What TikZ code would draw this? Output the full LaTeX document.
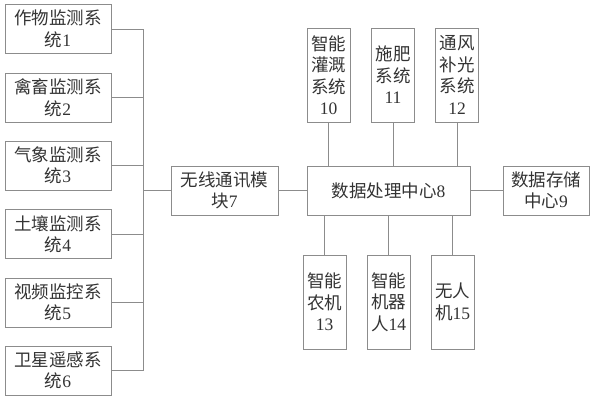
\documentclass[tikz,border=0pt]{standalone}
\usepackage{fontspec}
\setmainfont{Liberation Serif}
\newfontfamily\cjk{Noto Sans CJK SC}
\begin{document}
\begin{tikzpicture}[x=1bp,y=-1bp,
  box/.style={draw=black!45,line width=0.8bp,inner sep=0pt,align=center,
    font=\fontsize{17.5bp}{21.5bp}\selectfont,text=black!80},
  lbox/.style={box,minimum width=106bp,minimum height=49bp},
  vbox/.style={box,minimum width=43bp,minimum height=94bp},
  wire/.style={draw=black!45,line width=0.8bp}]
\useasboundingbox (0,0) rectangle (594,400);
\fill[white] (0,0) rectangle (594,400);
% left column
\node[lbox] (b1) at (58,29) {{\cjk 作物监测系}\\{\cjk 统}1};
\node[lbox] (b2) at (58,97.5) {{\cjk 禽畜监测系}\\{\cjk 统}2};
\node[lbox] (b3) at (58,165.5) {{\cjk 气象监测系}\\{\cjk 统}3};
\node[lbox] (b4) at (58,234) {{\cjk 土壤监测系}\\{\cjk 统}4};
\node[lbox] (b5) at (58,302.5) {{\cjk 视频监控系}\\{\cjk 统}5};
\node[lbox] (b6) at (58,370.5) {{\cjk 卫星遥感系}\\{\cjk 统}6};
% middle
\node[box,minimum width=107bp,minimum height=49bp] (wl) at (224.5,190.5) {{\cjk 无线通讯模}\\{\cjk 块}7};
\node[box,minimum width=163bp,minimum height=49bp] (dc) at (388.5,190.5) {{\cjk 数据处理中心}8};
\node[box,minimum width=86bp,minimum height=49bp] (st) at (546,190.5) {{\cjk 数据存储}\\{\cjk 中心}9};
% top
\node[vbox] (t10) at (328.5,75) {{\cjk 智能}\\{\cjk 灌溉}\\{\cjk 系统}\\10};
\node[vbox] (t11) at (393,75) {{\cjk 施肥}\\{\cjk 系统}\\11};
\node[vbox] (t12) at (457,75) {{\cjk 通风}\\{\cjk 补光}\\{\cjk 系统}\\12};
% bottom
\node[vbox] (u13) at (324.5,302) {{\cjk 智能}\\{\cjk 农机}\\13};
\node[vbox] (u14) at (388.5,302) {{\cjk 智能}\\{\cjk 机器}\\{\cjk 人}14};
\node[vbox] (u15) at (452.5,302) {{\cjk 无人}\\{\cjk 机}15};
% bus
\coordinate (bus) at (143,0);
\foreach \b in {b1,b2,b3,b4,b5,b6} {\draw[wire] (\b.east) -- (\b.east -| bus);}
\draw[wire] (b1.east -| bus) -- (b6.east -| bus);
\draw[wire] (wl.west -| bus) -- (wl.west);
\draw[wire] (wl.east) -- (dc.west);
\draw[wire] (dc.east) -- (st.west);
\foreach \t in {t10,t11,t12} {\draw[wire] (\t.south) -- (\t.south |- dc.north);}
\foreach \u in {u13,u14,u15} {\draw[wire] (\u.north) -- (\u.north |- dc.south);}
\end{tikzpicture}
\end{document}
